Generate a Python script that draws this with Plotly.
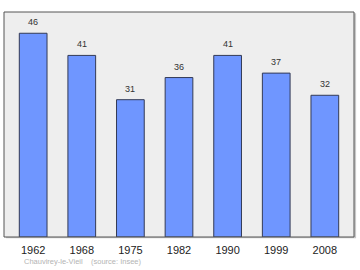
import plotly.graph_objects as go

years = ["1962", "1968", "1975", "1982", "1990", "1999", "2008"]
population = [46, 41, 31, 36, 41, 37, 32]
source_text = "Chauvirey-le-Vieil    (source: Insee)"

FONT = "Liberation Sans, Arial, DejaVu Sans"

fig = go.Figure()
fig.add_trace(go.Bar(
    x=years, y=population, width=0.57,
    marker=dict(color="#6f96ff", line=dict(color="#333a55", width=1)),
    hoverinfo="skip",
))
for i, v in enumerate(population):
    fig.add_annotation(x=i, y=v, text=str(v), showarrow=False,
                       yanchor="bottom", yshift=4,
                       font=dict(family=FONT, size=9, color="#333333"))

fig.add_annotation(xref="paper", yref="paper", x=0.05, y=-0.108, xanchor="left", yanchor="middle",
                   text=source_text, showarrow=False,
                   font=dict(family=FONT, size=7.5, color="#b4b4b4"))

# shadow
fig.add_shape(type="rect", xref="paper", yref="paper", x0=0.006, x1=1.006, y0=-0.006, y1=0.994,
              line=dict(width=0), fillcolor="#c8c8c8", layer="below")
fig.add_shape(type="rect", xref="paper", yref="paper", x0=0, x1=1, y0=0, y1=1,
              line=dict(width=0), fillcolor="#eeeeee", layer="below")
fig.add_shape(type="rect", xref="paper", yref="paper", x0=0, x1=1, y0=0, y1=1,
              line=dict(color="#555555", width=1), layer="above")

fig.update_layout(
    width=360, height=270,
    margin=dict(l=4, r=6, t=12, b=33),
    paper_bgcolor="white", plot_bgcolor="rgba(0,0,0,0)",
    showlegend=False,
    xaxis=dict(type="category", range=[-0.6, 6.6], showgrid=False, zeroline=False,
               ticks="", showline=False, ticklabelstandoff=5,
               tickfont=dict(family=FONT, size=11, color="#222222")),
    yaxis=dict(range=[0, 50.8], showgrid=False, zeroline=False, showticklabels=False, showline=False),
)
fig.write_html("out.html")
